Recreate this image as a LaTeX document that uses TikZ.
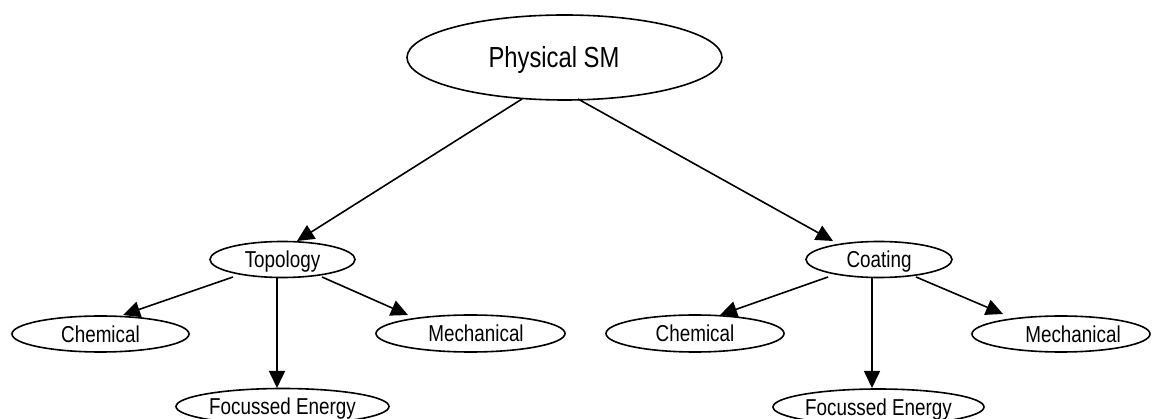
\documentclass[tikz,border=0pt]{standalone}
\usepackage{fontspec}
\setmainfont{Liberation Sans}[FakeStretch=0.82]
\usetikzlibrary{shapes.geometric,arrows.meta}

\tikzset{
  oval/.style={ellipse, draw, line width=1.6pt, inner sep=0pt,
    text height=16.5pt, text depth=0pt,
    font=\fontsize{23}{27}\selectfont},
  bigoval/.style={oval, text height=20.7pt,
    font=\fontsize{29}{33}\selectfont},
  link/.style={line width=1.6pt,
    -{Triangle[length=17pt,width=16pt]}},
}

\begin{document}
\begin{tikzpicture}[x=1pt,y=-1pt]
  \useasboundingbox (0,0) rectangle (1152,419);
  \clip (0,0) rectangle (1152,419);

  % root
  \node[bigoval, minimum width=315pt, minimum height=85pt] (P) at (564.5,57.5) {Physical SM\kern21pt};

  % second level
  \node[oval, minimum width=145pt, minimum height=36pt] (T) at (282.5,259.5) {Topology};
  \node[oval, minimum width=146pt, minimum height=36pt] (C) at (879,259.5) {Coating};

  % leaves under Topology
  \node[oval, minimum width=177pt, minimum height=36pt] (TC) at (100.5,334) {Chemical};
  \node[oval, minimum width=213pt, minimum height=36pt] (TF) at (282.5,406.5) {Focussed Energy};
  \node[oval, minimum width=189pt, minimum height=37pt] (TM) at (470.5,333.5) {\kern11pt Mechanical};

  % leaves under Coating
  \node[oval, minimum width=178pt, minimum height=37pt] (CC) at (695,333.5) {Chemical};
  \node[oval, minimum width=211pt, minimum height=36pt] (CF) at (878.5,407) {Focussed Energy};
  \node[oval, minimum width=178pt, minimum height=36pt] (CM) at (1061,334) {\kern24pt Mechanical};

  % connectors
  \draw[link] ([shift={(-42.5,41.5)}]P.center) -- ([shift={(14.5,-18.5)}]T.center);
  \draw[link] ([shift={(13.5,41.5)}]P.center) -- ([shift={(-46,-18.5)}]C.center);

  \draw[link] ([shift={(-49.5,17.5)}]T.center) -- ([shift={(22.5,-19)}]TC.center);
  \draw[link] ([shift={(-5.5,17.5)}]T.center) -- ([shift={(-5.5,-18.5)}]TF.center);
  \draw[link] ([shift={(39.5,17.5)}]T.center) -- ([shift={(-62.5,-18.5)}]TM.center);

  \draw[link] ([shift={(-51,17.5)}]C.center) -- ([shift={(25,-18.5)}]CC.center);
  \draw[link] ([shift={(-7,17.5)}]C.center) -- ([shift={(-6.5,-19)}]CF.center);
  \draw[link] ([shift={(37,17.5)}]C.center) -- ([shift={(-58,-20)}]CM.center);
\end{tikzpicture}
\end{document}
